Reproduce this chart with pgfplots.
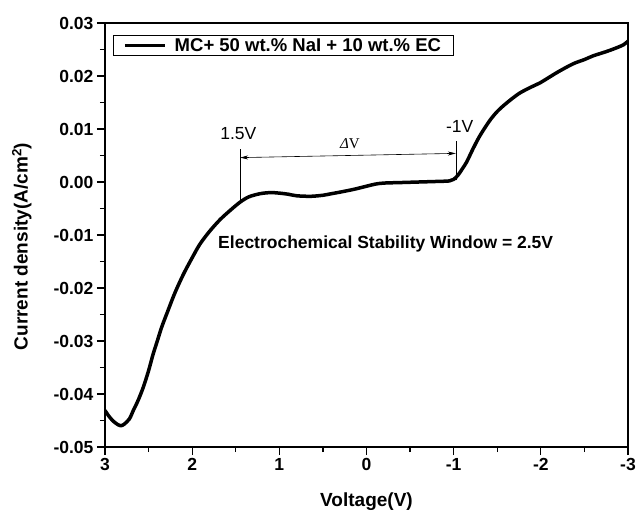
\documentclass[border=0pt]{standalone}
\usepackage{fontspec}
\setmainfont{Liberation Sans}
\newfontfamily\seriffont{Liberation Serif}
\usepackage{pgfplots}
\pgfplotsset{compat=1.18}
\usetikzlibrary{arrows.meta}

\begin{document}
\begin{tikzpicture}[x=1pt,y=1pt]
\useasboundingbox (0,0) rectangle (636,512);
\begin{axis}[
  at={(105pt,65pt)}, anchor=south west,
  scale only axis, width=523pt, height=424pt,
  x dir=reverse,
  xmin=-3, xmax=3, ymin=-0.05, ymax=0.03,
  scaled y ticks=false,
  xtick={-3,-2,-1,0,1,2,3},
  xticklabels={-3,-2,-1,0,1,2,3},
  ytick={-0.05,-0.04,-0.03,-0.02,-0.01,0,0.01,0.02,0.03},
  yticklabels={-0.05,-0.04,-0.03,-0.02,-0.01,0.00,0.01,0.02,0.03},
  minor x tick num=1, minor y tick num=1,
  tick align=outside, tick pos=left,
  major tick length=8pt, minor tick length=5pt,
  every tick/.style={line width=1.2pt, black},
  axis line style={line width=1.5pt},
  tick label style={font=\bfseries\fontsize{17.5}{17.5}\selectfont},
  xlabel={Voltage(V)},
  ylabel={Current density(A/cm\textsuperscript{2})},
  label style={font=\bfseries\fontsize{19}{19}\selectfont},
  xlabel style={at={(axis description cs:0.5,-0.13)}, anchor=center},
  ylabel style={at={(axis description cs:-0.159,0.473)}, anchor=center},
  legend style={at={(axis description cs:0.015,0.972)}, anchor=north west,
    draw=black, line width=0.8pt, inner ysep=1pt, inner xsep=10pt,
    font=\bfseries\fontsize{18.5}{18.5}\selectfont},
  legend cell align=left,
  legend image code/.code={%
    \draw[#1, line width=3.5pt] (0pt,0pt) -- (40pt,0pt);},
]
\addplot[black, line width=3.5pt, line join=round, smooth, tension=0.5] coordinates {
 (3.00,-0.0431) (2.95,-0.0443) (2.90,-0.0452) (2.85,-0.0458) (2.82,-0.0460)
 (2.78,-0.0457) (2.72,-0.0447) (2.675,-0.0431) (2.62,-0.0412) (2.56,-0.0387)
 (2.50,-0.0356) (2.45,-0.0326) (2.40,-0.0300) (2.35,-0.0274) (2.29,-0.0248)
 (2.20,-0.0210) (2.10,-0.0174) (2.00,-0.0143) (1.91,-0.0117) (1.80,-0.0093)
 (1.68,-0.0071) (1.56,-0.0053) (1.45,-0.0038) (1.35,-0.0028) (1.22,-0.0022)
 (1.10,-0.0020) (1.00,-0.0021) (0.90,-0.0023) (0.80,-0.0026) (0.64,-0.0027)
 (0.50,-0.0025) (0.40,-0.0022) (0.30,-0.0019) (0.15,-0.0014) (0.00,-0.0008)
 (-0.10,-0.0004) (-0.20,-0.0002) (-0.40,-0.0001) (-0.60,0.0000) (-0.80,0.0001)
 (-0.95,0.0002) (-1.00,0.0005) (-1.05,0.0013) (-1.10,0.0025) (-1.15,0.0038)
 (-1.22,0.0062) (-1.30,0.0087) (-1.41,0.0115) (-1.50,0.0133) (-1.60,0.0148)
 (-1.75,0.0167) (-1.90,0.0180) (-1.99,0.0187) (-2.10,0.0198) (-2.20,0.0208)
 (-2.37,0.0223) (-2.50,0.0231) (-2.60,0.0238) (-2.75,0.0246) (-2.85,0.0252)
 (-2.95,0.0259) (-3.00,0.0266)
};
\addlegendentry{\hspace{6pt}MC+ 50 wt.\% NaI + 10 wt.\% EC}

% stability window markers
\draw[line width=0.6pt] (axis cs:1.45,-0.0038) -- (axis cs:1.45,0.0063);
\draw[line width=0.6pt] (axis cs:-1.025,0.0003) -- (axis cs:-1.025,0.0078);
\draw[line width=0.6pt, {Stealth[length=8pt,width=4pt]}-{Stealth[length=8pt,width=4pt]}]
  (axis cs:1.45,0.0046) -- (axis cs:-1.025,0.0054);
\node[font=\fontsize{17.5}{17.5}\selectfont] at (axis cs:1.47,0.0092) {1.5V};
\node[font=\fontsize{17.5}{17.5}\selectfont] at (axis cs:-1.07,0.0104) {-1V};
\node[font=\seriffont\fontsize{15}{15}\selectfont] at (axis cs:0.19,0.0073) {{\itshape Δ}V};
\node[font=\bfseries\fontsize{17.5}{17.5}\selectfont] at (axis cs:-0.22,-0.0116)
  {Electrochemical Stability Window = 2.5V};
\end{axis}
\end{tikzpicture}
\end{document}
